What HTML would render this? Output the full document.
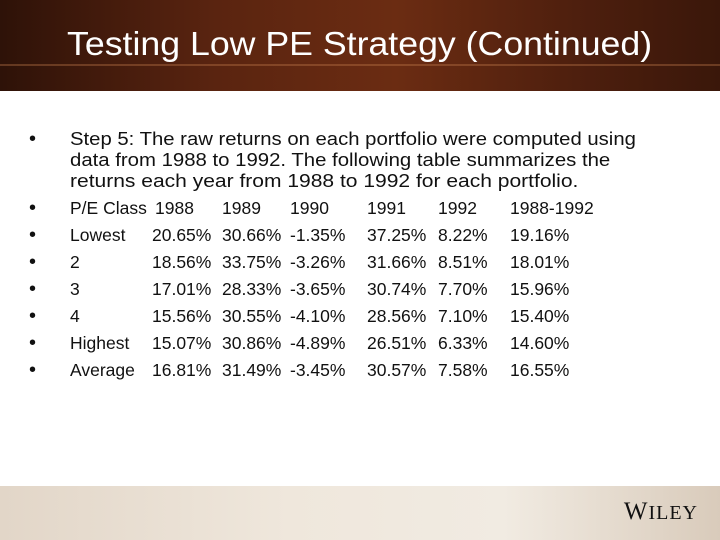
<!DOCTYPE html>
<html><head><meta charset="utf-8"><style>
body{margin:0}
#slide{position:relative;width:720px;height:540px;background:#fff;overflow:hidden;font-family:"Liberation Sans",sans-serif;color:#111}
#hdr{position:absolute;left:0;top:0;width:720px;height:91px;background:linear-gradient(90deg,#2e1208 0%,#5a2410 30%,#6b2c12 55%,#4e1f0e 80%,#3a170a 100%)}
#hdr:after{content:"";position:absolute;left:0;top:64px;width:720px;height:2px;background:rgba(200,130,80,.35)}
#title{position:absolute;left:67px;top:25px;color:#fff;font-size:33px;white-space:nowrap;transform-origin:0 0}
#ftr{position:absolute;left:0;top:486px;width:720px;height:54px;background:linear-gradient(90deg,#e2d6c8,#efe7dc 40%,#f1ebe2 70%,#d9cbbb)}
#wiley{position:absolute;right:22px;top:12px;font-family:"Liberation Serif",serif;font-size:25px;color:#111;letter-spacing:1px}
.t{position:absolute;font-size:17.5px;white-space:nowrap;line-height:20px}
.b{position:absolute;left:29px;font-size:20px;line-height:20px}
</style></head><body>
<div id="slide">
<div id="hdr"><div id="title">Testing Low PE Strategy (Continued)</div></div>
<div id="body"></div>
<div id="ftr"><div id="wiley">W<span style="font-size:20px">ILEY</span></div></div>
</div>
<script>
const introLines=["Step 5: The raw returns on each portfolio were computed using","data from 1988 to 1992. The following table summarizes the","returns each year from 1988 to 1992 for each portfolio."];
const headerRow=["P/E Class","1988","1989","1990","1991","1992","1988-1992"];
const rowLabels=["Lowest","2","3","4","Highest","Average"];
const rowValues=[
["20.65%","30.66%","-1.35%","37.25%","8.22%","19.16%"],
["18.56%","33.75%","-3.26%","31.66%","8.51%","18.01%"],
["17.01%","28.33%","-3.65%","30.74%","7.70%","15.96%"],
["15.56%","30.55%","-4.10%","28.56%","7.10%","15.40%"],
["15.07%","30.86%","-4.89%","26.51%","6.33%","14.60%"],
["16.81%","31.49%","-3.45%","30.57%","7.58%","16.55%"]];
const body=document.getElementById('body');
const colX=[70,152,222,290,367,438,510];
function add(txt,x,y,cls){const d=document.createElement('div');d.className=cls;d.textContent=txt;d.style.left=x+'px';d.style.top=y+'px';


body.appendChild(d);return d;}
function fit(el,w){const r=w/el.offsetWidth;el.style.transformOrigin='0 0';el.style.transform='scaleX('+r+')';}
const ti=document.getElementById('title');fit(ti,585);
const introW=[566,540,508];
add('•',29,129,'b');
introLines.forEach((l,i)=>{const e=add(l,70,129+i*21,'t');e.style.fontSize='18.5px';fit(e,introW[i]);});
let y=198;
add('•',29,y,'b');
headerRow.forEach((c,i)=>{add(c,i===1?155:colX[i],y,'t');});
rowLabels.forEach((lab,r)=>{const yy=y+27*(r+1);add('•',29,yy,'b');add(lab,70,yy,'t');rowValues[r].forEach((v,j)=>add(v,colX[j+1],yy,'t'));});
</script>
</body></html>
